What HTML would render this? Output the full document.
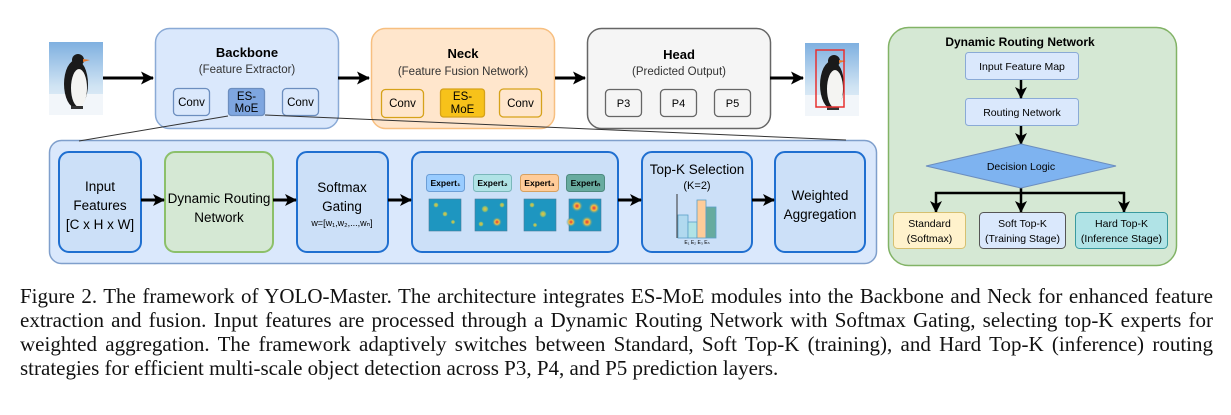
<!DOCTYPE html>
<html><head><meta charset="utf-8"><style>
body{margin:0;background:#fff;width:1231px;height:415px;overflow:hidden;position:relative;font-family:"Liberation Sans",sans-serif}
svg{position:absolute;left:0;top:0}
.cap{position:absolute;left:20px;width:1193px;font-family:"Liberation Serif",serif;font-size:21px;line-height:24px;top:284px;text-align:justify;color:#111}
.cap span{display:block;text-align-last:justify;white-space:nowrap}
.cap span.l{text-align-last:left}
</style></head><body>
<svg width="1231" height="280" viewBox="0 0 1231 280" font-family="Liberation Sans, sans-serif">
<defs>
<marker id="a" markerWidth="12" markerHeight="12" refX="11" refY="6" orient="auto" markerUnits="userSpaceOnUse"><path d="M0,0 L12,6 L0,12 L3,6z" fill="#000"/></marker>
<marker id="b" markerWidth="13" markerHeight="13" refX="12" refY="6.5" orient="auto" markerUnits="userSpaceOnUse"><path d="M0,0 L13,6.5 L0,13 L3,6.5z" fill="#000"/></marker>
<linearGradient id="sky" x1="0" y1="0" x2="0" y2="1"><stop offset="0" stop-color="#7fb0e0"/><stop offset="0.6" stop-color="#cfe3f3"/><stop offset="1" stop-color="#eef4fa"/></linearGradient>
<radialGradient id="hot"><stop offset="0" stop-color="#e0303a"/><stop offset="0.45" stop-color="#f2c040"/><stop offset="1" stop-color="#1e96c0" stop-opacity="0"/></radialGradient>
<radialGradient id="warm"><stop offset="0" stop-color="#f0c040"/><stop offset="0.6" stop-color="#8cc070"/><stop offset="1" stop-color="#1e96c0" stop-opacity="0"/></radialGradient>
<g id="peng">
<rect x="0" y="0" width="54" height="73" fill="url(#sky)"/>
<rect x="0" y="52" width="54" height="21" fill="#f2f6fa"/>
<ellipse cx="27" cy="42" rx="12" ry="24" fill="#1a1a1a"/>
<ellipse cx="30" cy="46" rx="8" ry="19" fill="#f4f4f2"/>
<circle cx="29" cy="18" r="6" fill="#1a1a1a"/>
<path d="M34,17 L41,18 L34,20z" fill="#e8782a"/>
<rect x="22" y="64" width="12" height="3" fill="#333"/>
</g>
</defs>
<use href="#peng" x="49" y="42"/>
<line x1="103" y1="78" x2="153" y2="78" stroke="#000" stroke-width="3" marker-end="url(#b)"/>
<rect x="155.5" y="28.5" width="183" height="100" rx="14" fill="#dae8fc" stroke="#8aaad6" stroke-width="1.5"/>
<text x="247" y="57" font-size="13" font-weight="bold" text-anchor="middle">Backbone</text>
<text x="247" y="73" font-size="11.5" text-anchor="middle" fill="#333">(Feature Extractor)</text>
<rect x="173.5" y="88.5" width="36" height="27" rx="4" fill="#dae8fc" stroke="#6c8ebf" stroke-width="1.3"/>
<text x="191.5" y="106" font-size="11.5" text-anchor="middle">Conv</text>
<rect x="228.5" y="88.5" width="36" height="27" rx="3" fill="#7ea6e0" stroke="#6c8ebf" stroke-width="1.3"/>
<text x="246.5" y="100" font-size="11.5" text-anchor="middle">ES-</text>
<text x="246.5" y="112" font-size="11.5" text-anchor="middle">MoE</text>
<rect x="282.5" y="88.5" width="36" height="27" rx="4" fill="#dae8fc" stroke="#6c8ebf" stroke-width="1.3"/>
<text x="300.5" y="106" font-size="11.5" text-anchor="middle">Conv</text>
<line x1="338" y1="78" x2="369" y2="78" stroke="#000" stroke-width="3" marker-end="url(#b)"/>
<rect x="371.5" y="28.5" width="183" height="100" rx="14" fill="#ffe6cc" stroke="#f7bf80" stroke-width="1.5"/>
<text x="463" y="58" font-size="13" font-weight="bold" text-anchor="middle">Neck</text>
<text x="463" y="75" font-size="11.5" text-anchor="middle" fill="#333">(Feature Fusion Network)</text>
<rect x="381.5" y="89.5" width="42" height="28" rx="4" fill="#ffe6cc" stroke="#d6a21a" stroke-width="1.3"/>
<text x="402.5" y="107" font-size="11.5" text-anchor="middle">Conv</text>
<rect x="440.5" y="89" width="44" height="28" rx="3" fill="#f7c21a" stroke="#d6a21a" stroke-width="1.3"/>
<text x="462.5" y="100" font-size="11.5" text-anchor="middle">ES-</text>
<text x="462.5" y="113" font-size="11.5" text-anchor="middle">MoE</text>
<rect x="499.5" y="89" width="42" height="28" rx="4" fill="#ffe6cc" stroke="#d6a21a" stroke-width="1.3"/>
<text x="520.5" y="107" font-size="11.5" text-anchor="middle">Conv</text>
<line x1="555" y1="78" x2="585" y2="78" stroke="#000" stroke-width="3" marker-end="url(#b)"/>
<rect x="587.5" y="28.5" width="183" height="100" rx="14" fill="#f5f5f5" stroke="#666" stroke-width="1.5"/>
<text x="679" y="59" font-size="13" font-weight="bold" text-anchor="middle">Head</text>
<text x="679" y="75" font-size="11.5" text-anchor="middle" fill="#333">(Predicted Output)</text>
<rect x="605.5" y="89.5" width="36" height="27" rx="4" fill="#f5f5f5" stroke="#666" stroke-width="1.3"/>
<text x="623.5" y="107" font-size="11" text-anchor="middle">P3</text>
<rect x="660.5" y="89.5" width="36" height="27" rx="4" fill="#f5f5f5" stroke="#666" stroke-width="1.3"/>
<text x="678.5" y="107" font-size="11" text-anchor="middle">P4</text>
<rect x="714.5" y="89.5" width="36" height="27" rx="4" fill="#f5f5f5" stroke="#666" stroke-width="1.3"/>
<text x="732.5" y="107" font-size="11" text-anchor="middle">P5</text>
<line x1="770" y1="78" x2="803" y2="78" stroke="#000" stroke-width="3" marker-end="url(#b)"/>
<use href="#peng" x="805" y="43"/>
<rect x="816" y="50" width="28" height="57" fill="none" stroke="#e83030" stroke-width="1.5"/>
<rect x="49.5" y="140.5" width="827" height="123" rx="12" fill="#dae8fc" stroke="#7f9fcc" stroke-width="1.5"/>
<line x1="228" y1="116" x2="79" y2="141" stroke="#333" stroke-width="1"/>
<line x1="265" y1="115" x2="846" y2="140" stroke="#333" stroke-width="1"/>
<g stroke="#1f6fd0" stroke-width="2" fill="#cce0f8">
<rect x="59" y="152" width="82" height="100" rx="10"/>
<rect x="297" y="152" width="91" height="100" rx="10"/>
<rect x="412" y="152" width="206" height="100" rx="10"/>
<rect x="642" y="152" width="110" height="100" rx="10"/>
<rect x="775" y="152" width="90" height="100" rx="10"/>
</g>
<rect x="165" y="152" width="108" height="100" rx="10" fill="#d5e8d4" stroke="#8cc06a" stroke-width="2"/>
<g font-size="13.5" text-anchor="middle">
<text x="100" y="191">Input</text><text x="100" y="210">Features</text><text x="100" y="229">[C x H x W]</text>
<text x="219" y="203">Dynamic Routing</text><text x="219" y="222">Network</text>
<text x="342" y="192">Softmax</text><text x="342" y="211">Gating</text>
<text x="342" y="226" font-size="9">w=[w₁,w₂,...,wₙ]</text>
<text x="697" y="174">Top-K Selection</text><text x="697" y="189" font-size="11">(K=2)</text>
<text x="820" y="200">Weighted</text><text x="820" y="219">Aggregation</text>
</g>
<g stroke="#000" stroke-width="3">
<line x1="141" y1="200" x2="164" y2="200" marker-end="url(#a)"/>
<line x1="273" y1="200" x2="296" y2="200" marker-end="url(#a)"/>
<line x1="388" y1="200" x2="411" y2="200" marker-end="url(#a)"/>
<line x1="618" y1="200" x2="641" y2="200" marker-end="url(#a)"/>
<line x1="752" y1="200" x2="774" y2="200" marker-end="url(#a)"/>
</g>
<g font-size="8.5" font-weight="bold" text-anchor="middle">
<rect x="426.5" y="174.5" width="38" height="17" rx="3" fill="#99ccff" stroke="#6c9ed6"/><text x="445.5" y="186">Expert₁</text>
<rect x="473.5" y="174.5" width="38" height="17" rx="3" fill="#b0e3e6" stroke="#7ab7ba"/><text x="492.5" y="186">Expert₂</text>
<rect x="520.5" y="174.5" width="38" height="17" rx="3" fill="#ffcc99" stroke="#d6a060"/><text x="539.5" y="186">Expert₃</text>
<rect x="566.5" y="174.5" width="38" height="17" rx="3" fill="#67ab9f" stroke="#4e8a7f"/><text x="585.5" y="186">Expertₙ</text>
</g>
<g>
<rect x="429" y="199" width="32" height="32" fill="#1e96c0" stroke="#4a7a9a" stroke-width="0.6"/>
<circle cx="436" cy="205" r="3" fill="url(#warm)"/><circle cx="445" cy="214" r="3" fill="url(#warm)"/><circle cx="453" cy="222" r="2.5" fill="url(#warm)"/>
<rect x="475" y="199" width="32" height="32" fill="#1e96c0" stroke="#4a7a9a" stroke-width="0.6"/>
<circle cx="485" cy="209" r="4" fill="url(#warm)"/><circle cx="502" cy="205" r="3" fill="url(#warm)"/><circle cx="497" cy="222" r="5" fill="url(#hot)"/><circle cx="481" cy="224" r="3" fill="url(#warm)"/>
<rect x="524" y="199" width="32" height="32" fill="#1e96c0" stroke="#4a7a9a" stroke-width="0.6"/>
<circle cx="532" cy="205" r="3" fill="url(#warm)"/><circle cx="543" cy="214" r="4" fill="url(#warm)"/><circle cx="535" cy="225" r="2.5" fill="url(#warm)"/>
<rect x="569" y="199" width="32" height="32" fill="#1e96c0" stroke="#4a7a9a" stroke-width="0.6"/>
<circle cx="577" cy="206" r="6" fill="url(#hot)"/><circle cx="594" cy="208" r="6" fill="url(#hot)"/><circle cx="587" cy="222" r="6" fill="url(#hot)"/><circle cx="571" cy="222" r="5" fill="url(#hot)"/>
</g>
<line x1="677" y1="194" x2="677" y2="238" stroke="#333" stroke-width="1"/>
<rect x="678" y="215" width="10" height="23" fill="#b1d9ef" stroke="#5aa0c8" stroke-width="0.8"/>
<rect x="688" y="222" width="9" height="16" fill="#b0e3e6" stroke="#5aa0c8" stroke-width="0.8"/>
<rect x="697" y="200" width="9" height="38" fill="#ffcc99" stroke="#5aa0c8" stroke-width="0.8"/>
<rect x="706" y="207" width="10" height="31" fill="#67ab9f" stroke="#5aa0c8" stroke-width="0.8"/>
<text x="697" y="244" font-size="5" text-anchor="middle">E₁ E₂ E₃ Eₙ</text>
<rect x="888.5" y="27.5" width="288" height="238" rx="20" fill="#d5e8d4" stroke="#82b366" stroke-width="1.5"/>
<text x="1020" y="46" font-size="12" font-weight="bold" text-anchor="middle">Dynamic Routing Network</text>
<rect x="965.5" y="52.5" width="113" height="27" rx="3" fill="#dae8fc" stroke="#8aaad6"/>
<text x="1022" y="70" font-size="10.5" text-anchor="middle">Input Feature Map</text>
<rect x="965.5" y="98.5" width="113" height="27" rx="3" fill="#dae8fc" stroke="#8aaad6"/>
<text x="1022" y="116" font-size="10.5" text-anchor="middle">Routing Network</text>
<g stroke="#000" stroke-width="2.5" fill="none">
<line x1="1021" y1="80" x2="1021" y2="98" marker-end="url(#a)"/>
<line x1="1021" y1="126" x2="1021" y2="144" marker-end="url(#a)"/>
<line x1="1021" y1="185" x2="1021" y2="192"/>
<line x1="935" y1="193" x2="1125" y2="193"/>
<line x1="936" y1="192" x2="936" y2="212" marker-end="url(#a)"/>
<line x1="1021" y1="192" x2="1021" y2="212" marker-end="url(#a)"/>
<line x1="1124" y1="192" x2="1124" y2="212" marker-end="url(#a)"/>
</g>
<polygon points="1021,144 1116,166 1021,188 926,166" fill="#7eb3f0" stroke="#6c8ebf"/>
<text x="1021" y="170" font-size="10.5" text-anchor="middle">Decision Logic</text>
<rect x="893.5" y="212.5" width="72" height="36" rx="4" fill="#fff2cc" stroke="#d6c070"/>
<text x="929.5" y="227" font-size="10.5" text-anchor="middle">Standard</text><text x="929.5" y="242" font-size="10.5" text-anchor="middle">(Softmax)</text>
<rect x="979.5" y="212.5" width="86" height="36" rx="4" fill="#dae8fc" stroke="#555"/>
<text x="1022.5" y="227" font-size="10.5" text-anchor="middle">Soft Top-K</text><text x="1022.5" y="242" font-size="10.5" text-anchor="middle">(Training Stage)</text>
<rect x="1075.5" y="212.5" width="92" height="36" rx="4" fill="#b0e3e6" stroke="#3a9a9e"/>
<text x="1121.5" y="227" font-size="10.5" text-anchor="middle">Hard Top-K</text><text x="1121.5" y="242" font-size="10.5" text-anchor="middle">(Inference Stage)</text>
</svg>
<div class="cap">
<span>Figure 2. The framework of YOLO-Master. The architecture integrates ES-MoE modules into the Backbone and Neck for enhanced feature</span>
<span>extraction and fusion. Input features are processed through a Dynamic Routing Network with Softmax Gating, selecting top-K experts for</span>
<span>weighted aggregation. The framework adaptively switches between Standard, Soft Top-K (training), and Hard Top-K (inference) routing</span>
<span class="l">strategies for efficient multi-scale object detection across P3, P4, and P5 prediction layers.</span>
</div>
</body></html>
